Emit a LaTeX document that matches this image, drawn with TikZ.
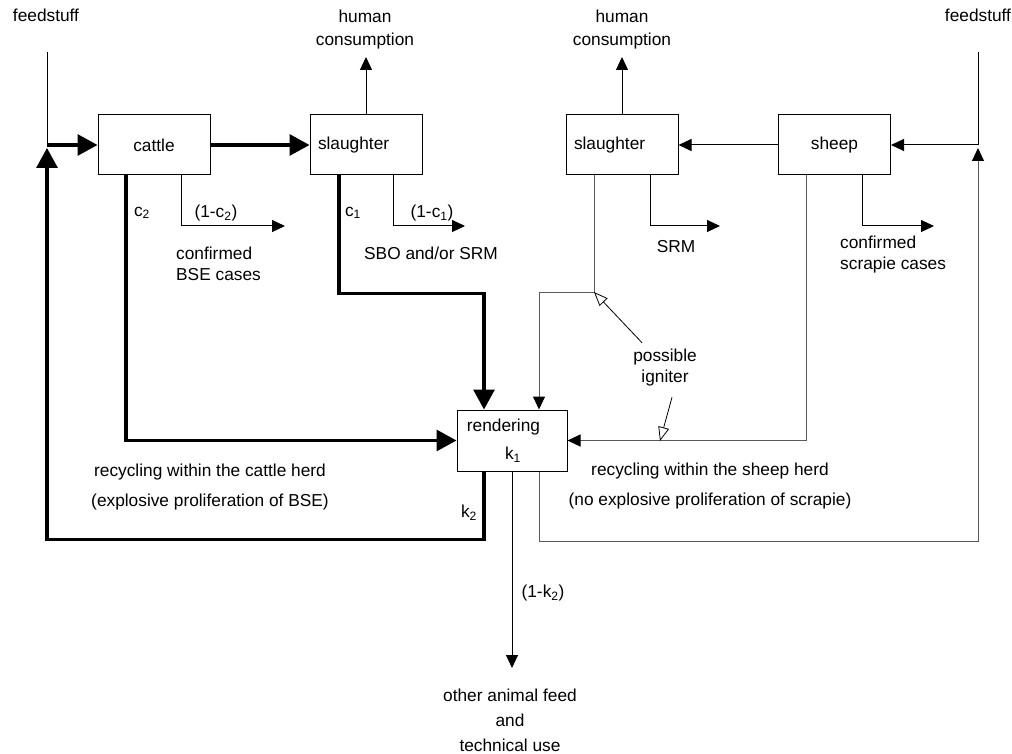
\documentclass[tikz,border=0pt]{standalone}
\usepackage{fontspec}
\setmainfont{Liberation Sans}
\usetikzlibrary{arrows.meta}

\begin{document}
\begin{tikzpicture}[x=1pt,y=-1pt,
    every node/.style={font=\fontsize{17.3}{21}\selectfont,inner sep=0pt},
    box/.style={draw,line width=1pt,minimum width=112pt,minimum height=60pt},
    thinarrow/.style={line width=1pt,-{Triangle[length=13pt,width=12pt,color=black]}},
    thickarrow/.style={line width=3.2pt,-{Triangle[length=20pt,width=21pt]}},
    pointer/.style={line width=0.8pt,-{Triangle[open,length=14pt,width=11pt]}},
    sheepline/.style={thinarrow,draw=black!65}]
    \useasboundingbox (0,0) rectangle (1012,754);
    \node[box] (cattle) at (154,145) {cattle};
    \node[box,text width=96pt,align=left] (slaughterA) at (366,145) {slaughter};
    \node[box,text width=96pt,align=left] (slaughterB) at (622,145) {slaughter};
    \node[box] (sheep) at (834.5,145) {sheep};
    \node[box,minimum width=110pt,minimum height=61pt] (rendering) at (512,440.5) {};
    \node (rendtext) at (503.5,427) {rendering};
    \node (k1) at (513,455) {k\textsubscript{1}};
    \node (feedL) at (46,15) {feedstuff};
    \node (feedR) at (978,15) {feedstuff};
    \node[align=center] (humanA) at (365,29.5) {human\\[2pt]consumption};
    \node[align=center] (humanB) at (622,29.5) {human\\[2pt]consumption};
    \coordinate (fL) at (47,52);
    \coordinate (jL) at (47,145);
    \coordinate (fR) at (978,52);
    \coordinate (jR) at (978,145);
    \coordinate (hA) at (366,57);
    \coordinate (hB) at (622,57);
    \coordinate (outBSE) at (285,226);
    \coordinate (outSBO) at (465,226);
    \coordinate (outSRM) at (720,226);
    \coordinate (outScr) at (934,226);
    \coordinate (igA) at (594,292);
    \coordinate (igB) at (660,441);
    \coordinate (out) at (512,668);
    \draw[line width=1pt] (fL) -- (jL);
    \draw[line width=1pt] (fR) -- (jR);
    \draw[thinarrow] (slaughterA.north) -- (hA);
    \draw[thinarrow] (slaughterB.north) -- (hB);
    \draw[thickarrow] (jL) -- (cattle);
    \draw[thickarrow] (cattle) -- (slaughterA);
    \draw[thickarrow] ([xshift=-28pt]cattle.south) |- (rendering.west);
    \draw[thickarrow] ([xshift=-27pt]slaughterA.south) -- ++(0,118) -| ([xshift=-28pt]rendering.north);
    \draw[thickarrow] ([xshift=-28pt]rendering.south) -- ++(0,68) -| ([yshift=-3pt]jL);
    \draw[thinarrow] ([xshift=27pt]cattle.south) |- (outBSE);
    \draw[thinarrow] ([xshift=27pt]slaughterA.south) |- (outSBO);
    \draw[thinarrow] ([xshift=28pt]slaughterB.south) |- (outSRM);
    \draw[thinarrow] ([xshift=27.5pt]sheep.south) |- (outScr);
    \draw[thinarrow] (sheep) -- (slaughterB);
    \draw[thinarrow] (jR) -- (sheep);
    \draw[sheepline] (slaughterB.south -| igA) -- (igA) -| ([xshift=27pt]rendering.north);
    \draw[sheepline] ([xshift=-28.5pt]sheep.south) |- (rendering.east);
    \draw[sheepline] ([xshift=27pt]rendering.south) -- ++(0,70) -| ([yshift=-3pt]jR);
    \draw[thinarrow] (rendering) -- (out);
    \node (c2) at (142,213) {c\textsubscript{2}};
    \node (minusc2) at (216,213) {(1-c\textsubscript{2})};
    \node[anchor=west,align=left] (bse) at (176,263.5) {confirmed\\BSE cases};
    \node (c1) at (353,213) {c\textsubscript{1}};
    \node (minusc1) at (432,213) {(1-c\textsubscript{1})};
    \node (sbo) at (431,253) {SBO and/or SRM};
    \node (srm) at (676,247) {SRM};
    \node[anchor=west,align=left] (scrapie) at (840,254.5) {confirmed\\scrapie cases};
    \node[align=center] (ign) at (665,367.5) {possible\\igniter};
    \draw[pointer] ([xshift=-23pt,yshift=6pt]ign.north) -- (igA);
    \draw[pointer] ([xshift=7pt,yshift=-11pt]ign.south) -- (igB);
    \node[align=center] (herdA) at (210,487.5) {recycling within the cattle herd\\[9pt](explosive proliferation of BSE)};
    \node[align=center] (herdB) at (710,486) {recycling within the sheep herd\\[9pt](no explosive proliferation of scrapie)};
    \node (k2) at (469,513) {k\textsubscript{2}};
    \node (minusk2) at (543,593) {(1-k\textsubscript{2})};
    \node[align=center] (use) at (510,720) {other animal feed\\[4pt]and\\[4pt]technical use};
\end{tikzpicture}
\end{document}
